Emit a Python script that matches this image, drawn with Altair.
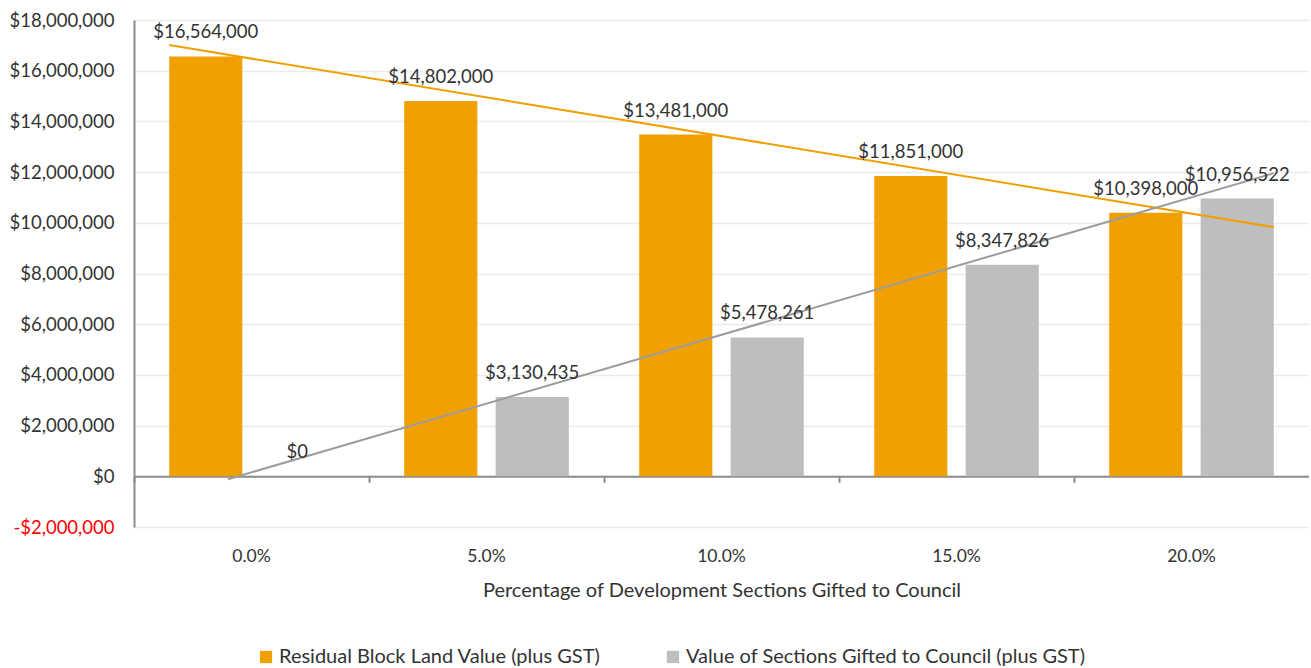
import altair as alt
import pandas as pd

categories = ["0.0%", "5.0%", "10.0%", "15.0%", "20.0%"]
series_names = ["Residual Block Land Value (plus GST)", "Value of Sections Gifted to Council (plus GST)"]
residual = [16564000, 14802000, 13481000, 11851000, 10398000]
gifted = [0, 3130435, 5478261, 8347826, 10956522]
colors = ["#F0A000", "#BDBEC0"]
line_colors = ["#F0A000", "#9C9C9C"]

rows = []
for s, vals in zip(series_names, [residual, gifted]):
    for i, (c, v) in enumerate(zip(categories, vals)):
        rows.append({"cat": c, "idx": i, "series": s, "value": v})
df = pd.DataFrame(rows)

W, H = 1175, 507
YMIN, YMAX = -2000000, 18000000
FONT = "Lato"
FS_NUM = 18.5
FS_TXT = 20
FS_X = 17.5
TXT = "#333333"

yscale = alt.Scale(domain=[YMIN, YMAX], nice=False, zero=False)
xband = alt.Scale(paddingInner=0, paddingOuter=0)
xoff = alt.Scale(paddingInner=0.2, paddingOuter=0.385)
color = alt.Color("series:N", sort=series_names,
                  scale=alt.Scale(domain=series_names, range=colors),
                  legend=alt.Legend(title=None, orient="none", direction="horizontal",
                                    legendX=122, legendY=627, symbolType="square",
                                    symbolSize=150, symbolStrokeWidth=0, symbolOffset=0,
                                    labelFont=FONT, labelFontSize=FS_TXT, labelColor=TXT,
                                    columnPadding=62, labelLimit=600, labelOffset=3))

base = alt.Chart(df)

bars = base.mark_bar().encode(
    x=alt.X("cat:N", sort=categories, scale=xband,
            axis=alt.Axis(title="Percentage of Development Sections Gifted to Council",
                          orient="bottom", labelAngle=0, domain=False, ticks=False,
                          labelPadding=20, titlePadding=16, labelFont=FONT, labelFontSize=FS_X,
                          labelColor=TXT, titleFont=FONT, titleFontSize=FS_TXT,
                          titleFontWeight="normal", titleColor=TXT)),
    xOffset=alt.XOffset("series:N", sort=series_names, scale=xoff),
    y=alt.Y("value:Q", scale=yscale,
            axis=alt.Axis(title=None, values=list(range(YMIN, YMAX + 1, 2000000)),
                          labelExpr="(datum.value < 0 ? '-' : '') + '$' + format(abs(datum.value), ',')",
                          labelColor={"expr": "datum.value < 0 ? '#FF0000' : '#333333'"},
                          labelFont=FONT, labelFontSize=FS_NUM, labelPadding=20,
                          ticks=False, domainColor="#8C8C8C", domainWidth=2,
                          gridColor="#EBEBEB", gridWidth=1.5)),
    color=color,
)

zero_offset = -H * (0 - YMIN) / (YMAX - YMIN)

labels = base.mark_text(font=FONT, fontSize=FS_NUM, color=TXT, baseline="middle", dy=-24).encode(
    x=alt.X("cat:N", sort=categories, scale=xband,
            axis=alt.Axis(title=None, orient="bottom", labels=False, domain=True,
                          domainColor="#8C8C8C", domainWidth=2, ticks=True,
                          tickColor="#8C8C8C", tickWidth=2, tickSize=6,
                          bandPosition=0, offset=zero_offset, grid=False)),
    xOffset=alt.XOffset("series:N", sort=series_names, scale=xoff),
    y=alt.Y("value:Q", scale=yscale),
    text=alt.Text("value:Q", format="$,.0f"),
)

xq = alt.Scale(domain=[-0.5, 4.5], nice=False, zero=False)

def trend(i, extent):
    return base.transform_filter(alt.datum.series == series_names[i]).transform_regression(
        "idx", "value", extent=extent
    ).mark_line(color=line_colors[i], strokeWidth=2).encode(
        x=alt.X("idx:Q", scale=xq, axis=None),
        y=alt.Y("value:Q", scale=yscale),
    )

chart = alt.layer(bars, trend(0, [-0.35, 4.35]), trend(1, [-0.1, 4.35]), labels).resolve_scale(
    x="independent"
).resolve_axis(x="independent").properties(
    width=W, height=H, padding={"left": 9, "top": 11, "right": 0, "bottom": 0}
).configure_view(stroke=None).configure(font=FONT)

chart.save("out.html", embed_options={"renderer": "svg", "actions": False})
